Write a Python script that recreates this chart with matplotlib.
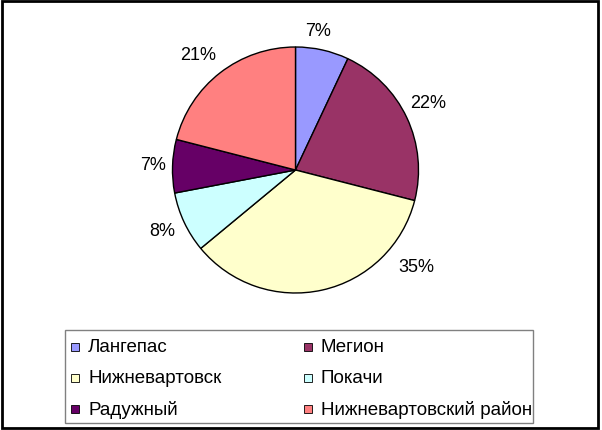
import matplotlib
matplotlib.use("Agg")
import matplotlib.pyplot as plt
from matplotlib.patches import Rectangle

plt.rcParams['font.family'] = ['Liberation Sans', 'DejaVu Sans']

# data
cities = ["Лангепас", "Мегион", "Нижневартовск", "Покачи", "Радужный",
          "Нижневартовский район"]
shares = [7, 22, 35, 8, 7, 21]
colors = ["#9999FF", "#993366", "#FFFFCC", "#CCFFFF", "#660066", "#FF8080"]

# label positions (pixels, from top-left), Excel style placement
label_pos = [(318, 32), (428, 103), (416, 268), (162, 232), (153, 165), (198, 55)]

W, H = 602, 431
fig = plt.figure(figsize=(W / 100, H / 100), dpi=100)

def fx(x):
    return x / W

def fy(y):
    return 1 - y / H

# pie axes: center (295, 171), radius 123
cx, cy, r = 295.5, 171, 123
ax = fig.add_axes([fx(cx - r), fy(cy + r), 2 * r / W, 2 * r / H])
ax.pie(shares, colors=colors, startangle=90, counterclock=False,
       wedgeprops=dict(edgecolor="black", linewidth=1.0))
ax.set_xlim(-1, 1)
ax.set_ylim(-1, 1)
ax.set_aspect("auto")
ax.axis("off")

for v, (x, y) in zip(shares, label_pos):
    fig.text(fx(x), fy(y), f"{v}%", ha="center", va="center", fontsize=13)

# legend (manual, row-wise like Excel)
lx0, ly0, lx1, ly1 = 65, 331, 533, 424
fig.patches.append(Rectangle((fx(lx0), fy(ly1)), fx(lx1) - fx(lx0), fy(ly0) - fy(ly1),
                             transform=fig.transFigure, fill=False,
                             edgecolor="#808080", linewidth=1))
col_x = [75, 308]
row_y = [348, 379, 410]
sq = 8
for i, (name, c) in enumerate(zip(cities, colors)):
    x = col_x[i % 2]
    y = row_y[i // 2]
    fig.patches.append(Rectangle((fx(x - sq / 2), fy(y + sq / 2)), sq / W, sq / H,
                                 transform=fig.transFigure, facecolor=c,
                                 edgecolor="black", linewidth=0.6))
    fig.text(fx(x + 13), fy(y), name, ha="left", va="center", fontsize=13.5)

# outer frame
fig.patches.append(Rectangle((fx(2), fy(429)), fx(598) - fx(2), fy(2) - fy(429),
                             transform=fig.transFigure, fill=False,
                             edgecolor="black", linewidth=2))

fig.savefig("out.png", dpi=100)
